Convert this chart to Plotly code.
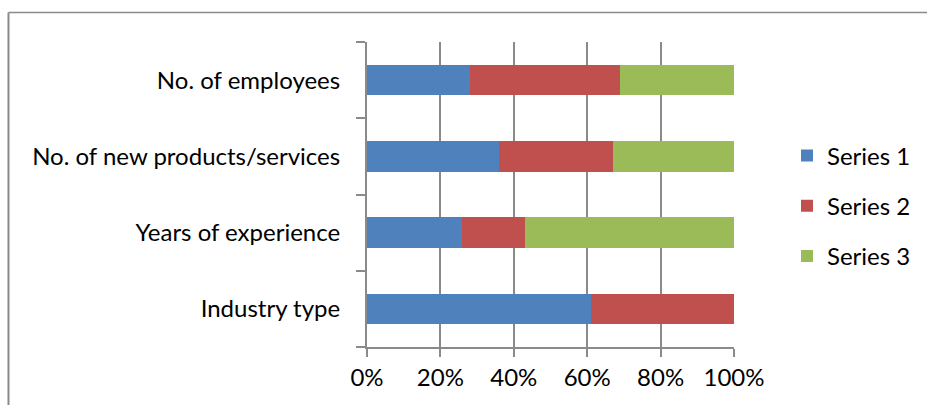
import plotly.graph_objects as go

# Share of responses per criterion (percent of row total)
categories = ["Industry type", "Years of experience",
              "No. of new products/services", "No. of employees"]
series_names = ["Series 1", "Series 2", "Series 3"]
series_1 = [61, 26, 36, 28]
series_2 = [39, 17, 31, 41]
series_3 = [0, 57, 33, 31]
x_ticks = [0, 20, 40, 60, 80, 100]
x_tick_labels = ["0%", "20%", "40%", "60%", "80%", "100%"]

colors = ["#4F81BD", "#C0504D", "#9BBB59"]
FONT = "Lato"
FS = 24
GRID = "#8a8a8a"

W, H = 927, 405
L, R, T, B = 367, 192, 42, 58

fig = go.Figure()
for name, vals, col in zip(series_names, [series_1, series_2, series_3], colors):
    fig.add_trace(go.Bar(
        y=categories, x=vals, name=name, orientation="h",
        marker=dict(color=col, line=dict(width=0)),
        legendgroup=name,
    ))

pw = W - L - R
ph = H - T - B
def px_x(p):
    return (p - L) / pw
def px_y(p):
    return (H - B - p) / ph

fig.update_layout(
    width=W, height=H,
    margin=dict(l=L, r=R, t=T, b=B, pad=0),
    barmode="stack", bargap=0.6,
    plot_bgcolor="white", paper_bgcolor="white",
    font=dict(family=FONT, size=FS, color="black"),
    showlegend=True,
    legend=dict(
        x=px_x(787), xanchor="left", y=px_y(206), yanchor="middle",
        traceorder="grouped", tracegroupgap=16,
        font=dict(family=FONT, size=FS, color="black"),
        itemwidth=30, bgcolor="rgba(0,0,0,0)",
    ),
    xaxis=dict(
        range=[0, 100], tickvals=x_ticks, ticktext=x_tick_labels,
        showgrid=True, gridcolor=GRID, gridwidth=2,
        showline=True, linecolor=GRID, linewidth=2,
        ticks="outside", ticklen=8, tickwidth=2, tickcolor=GRID,
        zeroline=False, fixedrange=True,
    ),
    yaxis=dict(
        categoryorder="array", categoryarray=categories,
        showgrid=False,
        showline=True, linecolor=GRID, linewidth=2,
        ticks="outside", ticklen=9, tickwidth=2, tickcolor=GRID,
        tickson="boundaries", ticklabelstandoff=20,
        zeroline=False, fixedrange=True,
    ),
)

# Outer chart frame (left and top edges)
fig.add_shape(type="line", xref="paper", yref="paper",
              x0=px_x(7.5), x1=px_x(930), y0=px_y(12.5), y1=px_y(12.5),
              line=dict(color=GRID, width=1.5))
fig.add_shape(type="line", xref="paper", yref="paper",
              x0=px_x(7.5), x1=px_x(7.5), y0=px_y(12.5), y1=px_y(410),
              line=dict(color=GRID, width=2))

fig.write_html("out.html", config={"displayModeBar": False})
